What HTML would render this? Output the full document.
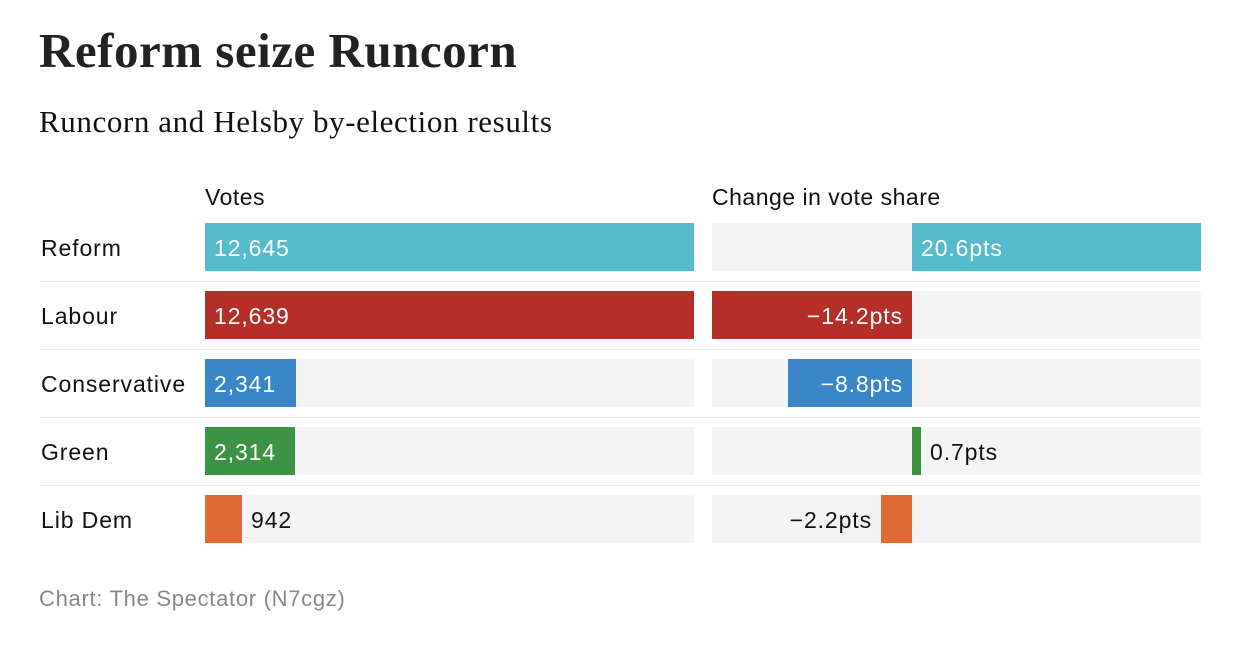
<!DOCTYPE html>
<html><head><meta charset="utf-8"><style>
body{margin:0;background:#fff;width:1250px;height:652px;position:relative;overflow:hidden;font-family:"Liberation Sans",sans-serif;color:#111}
.a{position:absolute;white-space:nowrap}
.t{left:39px;top:22px;font-family:"Liberation Serif",serif;font-weight:bold;font-size:49px;color:#222;letter-spacing:0.5px}
.s{left:39px;top:104px;font-family:"Liberation Serif",serif;font-size:31px;color:#111;letter-spacing:0.6px}
.h{top:184px;font-size:23px;letter-spacing:0.5px}
.lbl{left:41px;font-size:23px;line-height:48px;letter-spacing:0.9px}
.bg{background:#f4f4f4;height:48px}
.bar{height:48px}
.v{font-size:23px;line-height:48px;letter-spacing:0.9px}
.w{color:#fff}
.sep{left:40px;width:1161px;height:1px;background:#eee}
.f{left:39px;top:586px;font-size:22px;color:#888;letter-spacing:0.7px}
</style></head><body>
<div class="a t">Reform seize Runcorn</div>
<div class="a s">Runcorn and Helsby by-election results</div>
<div class="a h" style="left:205px">Votes</div>
<div class="a h" style="left:712px">Change in vote share</div>

<div class="a bg" style="left:205px;top:223px;width:489px"></div><div class="a bg" style="left:712px;top:223px;width:489px"></div>
<div class="a bg" style="left:205px;top:291px;width:489px"></div><div class="a bg" style="left:712px;top:291px;width:489px"></div>
<div class="a bg" style="left:205px;top:359px;width:489px"></div><div class="a bg" style="left:712px;top:359px;width:489px"></div>
<div class="a bg" style="left:205px;top:427px;width:489px"></div><div class="a bg" style="left:712px;top:427px;width:489px"></div>
<div class="a bg" style="left:205px;top:495px;width:489px"></div><div class="a bg" style="left:712px;top:495px;width:489px"></div>

<div class="a sep" style="top:281px"></div>
<div class="a sep" style="top:349px"></div>
<div class="a sep" style="top:417px"></div>
<div class="a sep" style="top:485px"></div>

<div class="a lbl" style="top:224px">Reform</div>
<div class="a lbl" style="top:292px">Labour</div>
<div class="a lbl" style="top:360px">Conservative</div>
<div class="a lbl" style="top:428px">Green</div>
<div class="a lbl" style="top:496px">Lib Dem</div>

<div class="a bar" style="left:205px;top:223px;width:489px;background:#56bccc"></div>
<div class="a v w" style="left:214px;top:224px">12,645</div>
<div class="a bar" style="left:205px;top:291px;width:489px;background:#b52e27"></div>
<div class="a v w" style="left:214px;top:292px">12,639</div>
<div class="a bar" style="left:205px;top:359px;width:91px;background:#3a85c8"></div>
<div class="a v w" style="left:214px;top:360px">2,341</div>
<div class="a bar" style="left:205px;top:427px;width:90px;background:#3d9245"></div>
<div class="a v w" style="left:214px;top:428px">2,314</div>
<div class="a bar" style="left:205px;top:495px;width:37px;background:#e06c33"></div>
<div class="a v" style="left:251px;top:496px">942</div>

<div class="a bar" style="left:912px;top:223px;width:289px;background:#56bccc"></div>
<div class="a v w" style="left:921px;top:224px">20.6pts</div>
<div class="a bar" style="left:712px;top:291px;width:200px;background:#b52e27"></div>
<div class="a v w" style="right:347px;top:292px">−14.2pts</div>
<div class="a bar" style="left:788px;top:359px;width:124px;background:#3a85c8"></div>
<div class="a v w" style="right:347px;top:360px">−8.8pts</div>
<div class="a bar" style="left:912px;top:427px;width:9px;background:#3d9245"></div>
<div class="a v" style="left:930px;top:428px">0.7pts</div>
<div class="a bar" style="left:881px;top:495px;width:31px;background:#e06c33"></div>
<div class="a v" style="right:378px;top:496px">−2.2pts</div>

<div class="a f">Chart: The Spectator (N7cgz)</div>
</body></html>
